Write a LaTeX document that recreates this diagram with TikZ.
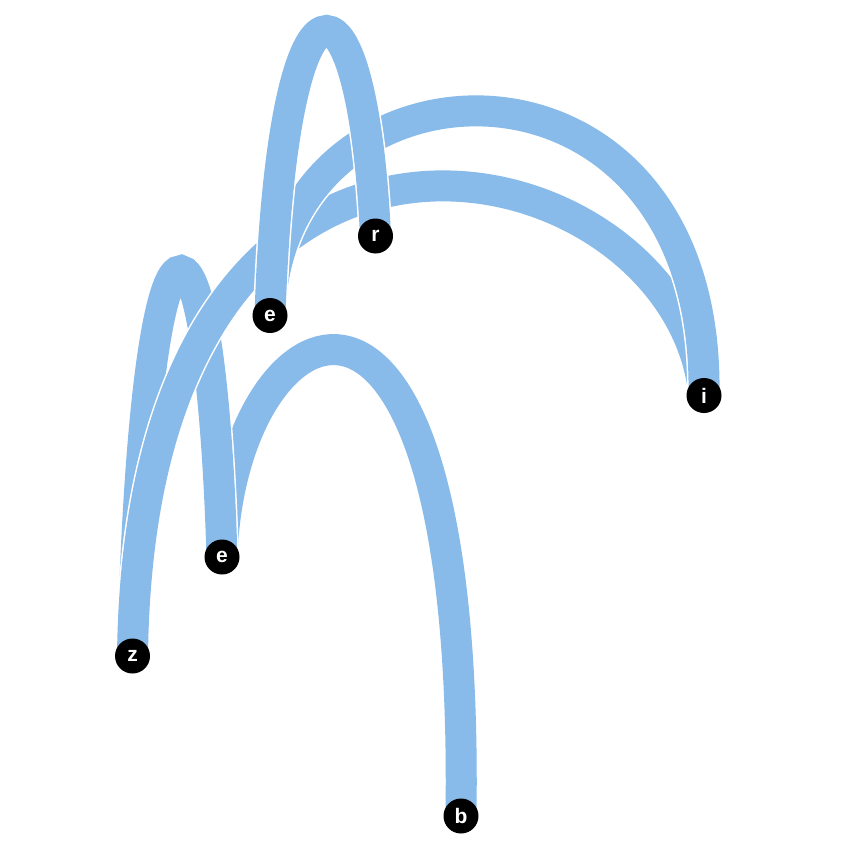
\documentclass[tikz,border=0pt]{standalone}
\usepackage{fontspec}
\setmainfont{Liberation Sans}
\definecolor{ribbon}{RGB}{136,187,233}
\pgfdeclarelayer{bg}
\pgfsetlayers{bg,main}
\begin{document}
\begin{tikzpicture}[x=1pt,y=-1pt,
  vtx/.style={circle,fill=black,minimum size=35pt,inner sep=0pt,text=white,font=\fontsize{21}{21}\selectfont\bfseries},
  link/.style={draw=white,line width=1.5pt,double=ribbon,double distance=31pt}]
\useasboundingbox (0,0) rectangle (848,848);
\node[vtx] (r) at (375.5,236) {r};
\node[vtx] (et) at (270,315.5) {e};
\node[vtx] (i) at (704,395.5) {i};
\node[vtx] (em) at (222,557) {e};
\node[vtx] (z) at (132.5,656) {z};
\node[vtx] (b) at (461,816) {b};
\begin{pgfonlayer}{bg}
\draw[link] (em.center) .. controls (230,300) and (470,180) .. (b.center);
\draw[link] (z.center) .. controls (145,160) and (210,160) .. (em.center);
\draw[link] (z.center) .. controls (140,10) and (680,140) .. (i.center);
\draw[link] (et.center) .. controls (275,40) and (710,20) .. (i.center);
\draw[link] (et.center) .. controls (282,-50) and (362,-50) .. (r.center);
\end{pgfonlayer}
\end{tikzpicture}
\end{document}
